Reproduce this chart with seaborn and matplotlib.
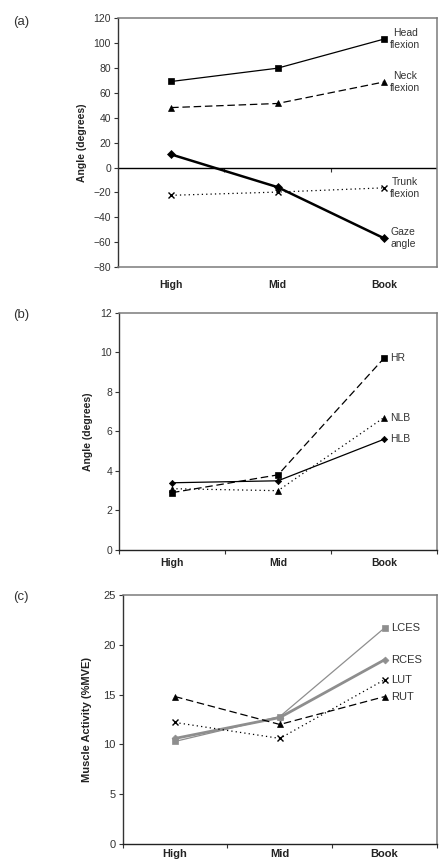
import numpy as np
import pandas as pd
import matplotlib
matplotlib.use("Agg")
import matplotlib.pyplot as plt
import seaborn as sns

sns.set_theme(style="white")
plt.rcParams['font.family'] = ['Liberation Sans', 'DejaVu Sans']

# Data
categories = ["High", "Mid", "Book"]

# (a) posture angles
head_flexion = [69.3, 80.0, 103.4]
neck_flexion = [48.3, 51.6, 68.9]
gaze_angle = [10.6, -15.7, -56.8]
trunk_flexion = [-22.3, -19.7, -16.3]

# (b) angle variability
hr = [2.9, 3.8, 9.7]
nlb = [3.1, 3.0, 6.7]
hlb = [3.4, 3.5, 5.6]

# (c) muscle activity
lces = [10.3, 12.8, 21.7]
rces = [10.6, 12.7, 18.5]
lut = [12.2, 10.6, 16.5]
rut = [14.8, 12.0, 14.8]

TXT = '#333333'
BORDER = '#7a7a7a'
GRAY = '#8e8e8e'


def style_axes(ax, ylim, ystep, fs, zero_axis=False, xpad=6):
    ax.set_xlim(-0.5, 2.5)
    ax.set_ylim(*ylim)
    ax.set_yticks(np.arange(ylim[0], ylim[1] + ystep / 2, ystep))
    ax.set_xticks(range(len(categories)))
    ax.set_xticklabels(categories, fontweight='bold', fontsize=fs, color='#222222')
    ax.set_xticks([-0.5, 0.5, 1.5, 2.5], minor=True)
    ax.tick_params(axis='y', which='major', direction='out', length=3, width=0.8,
                   color='#333333', labelsize=fs, labelcolor=TXT, pad=2, left=True)
    ax.set_xlabel('')
    for s in ['top', 'right']:
        ax.spines[s].set_color(BORDER)
        ax.spines[s].set_linewidth(1.1)
    ax.spines['left'].set_color('#333333')
    ax.spines['left'].set_linewidth(1.0)
    if zero_axis:
        ax.spines['bottom'].set_color(BORDER)
        ax.spines['bottom'].set_linewidth(1.1)
        ax.tick_params(axis='x', which='both', length=0, pad=xpad)
        ax.axhline(0, color='black', linewidth=1.0, zorder=1)
        sec = ax.secondary_xaxis((0 - ylim[0]) / (ylim[1] - ylim[0]))
        sec.set_xticks([0.5, 1.5])
        sec.set_xticklabels([])
        sec.tick_params(direction='out', length=3, width=0.8, color='#333333')
        sec.spines['bottom'].set_visible(False)
    else:
        ax.spines['bottom'].set_color('#222222')
        ax.spines['bottom'].set_linewidth(1.0)
        ax.tick_params(axis='x', which='major', length=0, pad=xpad)
        ax.tick_params(axis='x', which='minor', direction='out', length=3, width=0.8,
                       color='#333333', bottom=True)


def draw(ax, values, label, color='black', marker='s', ls='-', lw=0.9, ms=4.0, fs=7.5):
    df = pd.DataFrame({'pos': np.arange(len(categories)), 'val': values})
    sns.lineplot(data=df, x='pos', y='val', ax=ax, color=color, marker=marker,
                 linestyle=ls, linewidth=lw, markersize=ms, markeredgecolor=color,
                 markeredgewidth=1.0 if marker == 'x' else 0.5, sort=False, zorder=3)
    ax.annotate(label, (df['pos'].iloc[-1], df['val'].iloc[-1]), xytext=(4.5, 0),
                textcoords='offset points', ha='left', va='center', fontsize=fs,
                color=TXT, multialignment='center')


fig = plt.figure(figsize=(4.48, 8.63), dpi=100)
fig.patch.set_facecolor('white')

dash = (0, (6, 3))
dot = (0, (1, 2.5))

# Panel (a)
ax_a = fig.add_axes([118 / 448, 1 - 267 / 863, 319 / 448, 248.5 / 863])
draw(ax_a, head_flexion, "Head\nflexion", marker='s', ms=4.0)
draw(ax_a, neck_flexion, "Neck\nflexion", marker='^', ls=dash, ms=4.0)
draw(ax_a, gaze_angle, "Gaze\nangle", marker='D', lw=1.8, ms=4.0)
draw(ax_a, trunk_flexion, "Trunk\nflexion", marker='x', ls=dot, ms=4.0)
style_axes(ax_a, (-80, 120), 20, 7.5, zero_axis=True, xpad=9)
ax_a.set_ylabel("Angle (degrees)", fontweight='bold', fontsize=7.5, color='#222222')
ax_a.yaxis.set_label_coords(-0.097, 0.5)

# Panel (b)
ax_b = fig.add_axes([119 / 448, 1 - 550 / 863, 318 / 448, 237.3 / 863])
draw(ax_b, hr, "HR", marker='s', ls=dash, ms=4.0)
draw(ax_b, nlb, "NLB", marker='^', ls=dot, ms=4.0)
draw(ax_b, hlb, "HLB", marker='D', ms=3.2)
style_axes(ax_b, (0, 12), 2, 7.5)
ax_b.set_ylabel("Angle (degrees)", fontweight='bold', fontsize=7.5, color='#222222')
ax_b.yaxis.set_label_coords(-0.082, 0.5)

# Panel (c)
ax_c = fig.add_axes([122.7 / 448, 1 - 844 / 863, 314.3 / 448, 249 / 863])
draw(ax_c, lces, "LCES", color=GRAY, marker='s', lw=0.9, ms=4.5, fs=8)
draw(ax_c, rces, "RCES", color=GRAY, marker='D', lw=2.0, ms=3.5, fs=8)
draw(ax_c, lut, "LUT", marker='x', ls=dot, ms=4.0, fs=8)
draw(ax_c, rut, "RUT", marker='^', ls=dash, ms=4.0, fs=8)
style_axes(ax_c, (0, 25), 5, 8, xpad=3.5)
ax_c.set_ylabel("Muscle Activity (%MVE)", fontweight='bold', fontsize=8, color='#222222')
ax_c.yaxis.set_label_coords(-0.098, 0.5)

# Panel letters
for lbl, y in [("(a)", 22), ("(b)", 315), ("(c)", 597)]:
    fig.text(13 / 448, 1 - y / 863, lbl, fontsize=9.5, color=TXT, va='center', ha='left')

fig.savefig("out.png", dpi=100, facecolor='white')
plt.close(fig)
